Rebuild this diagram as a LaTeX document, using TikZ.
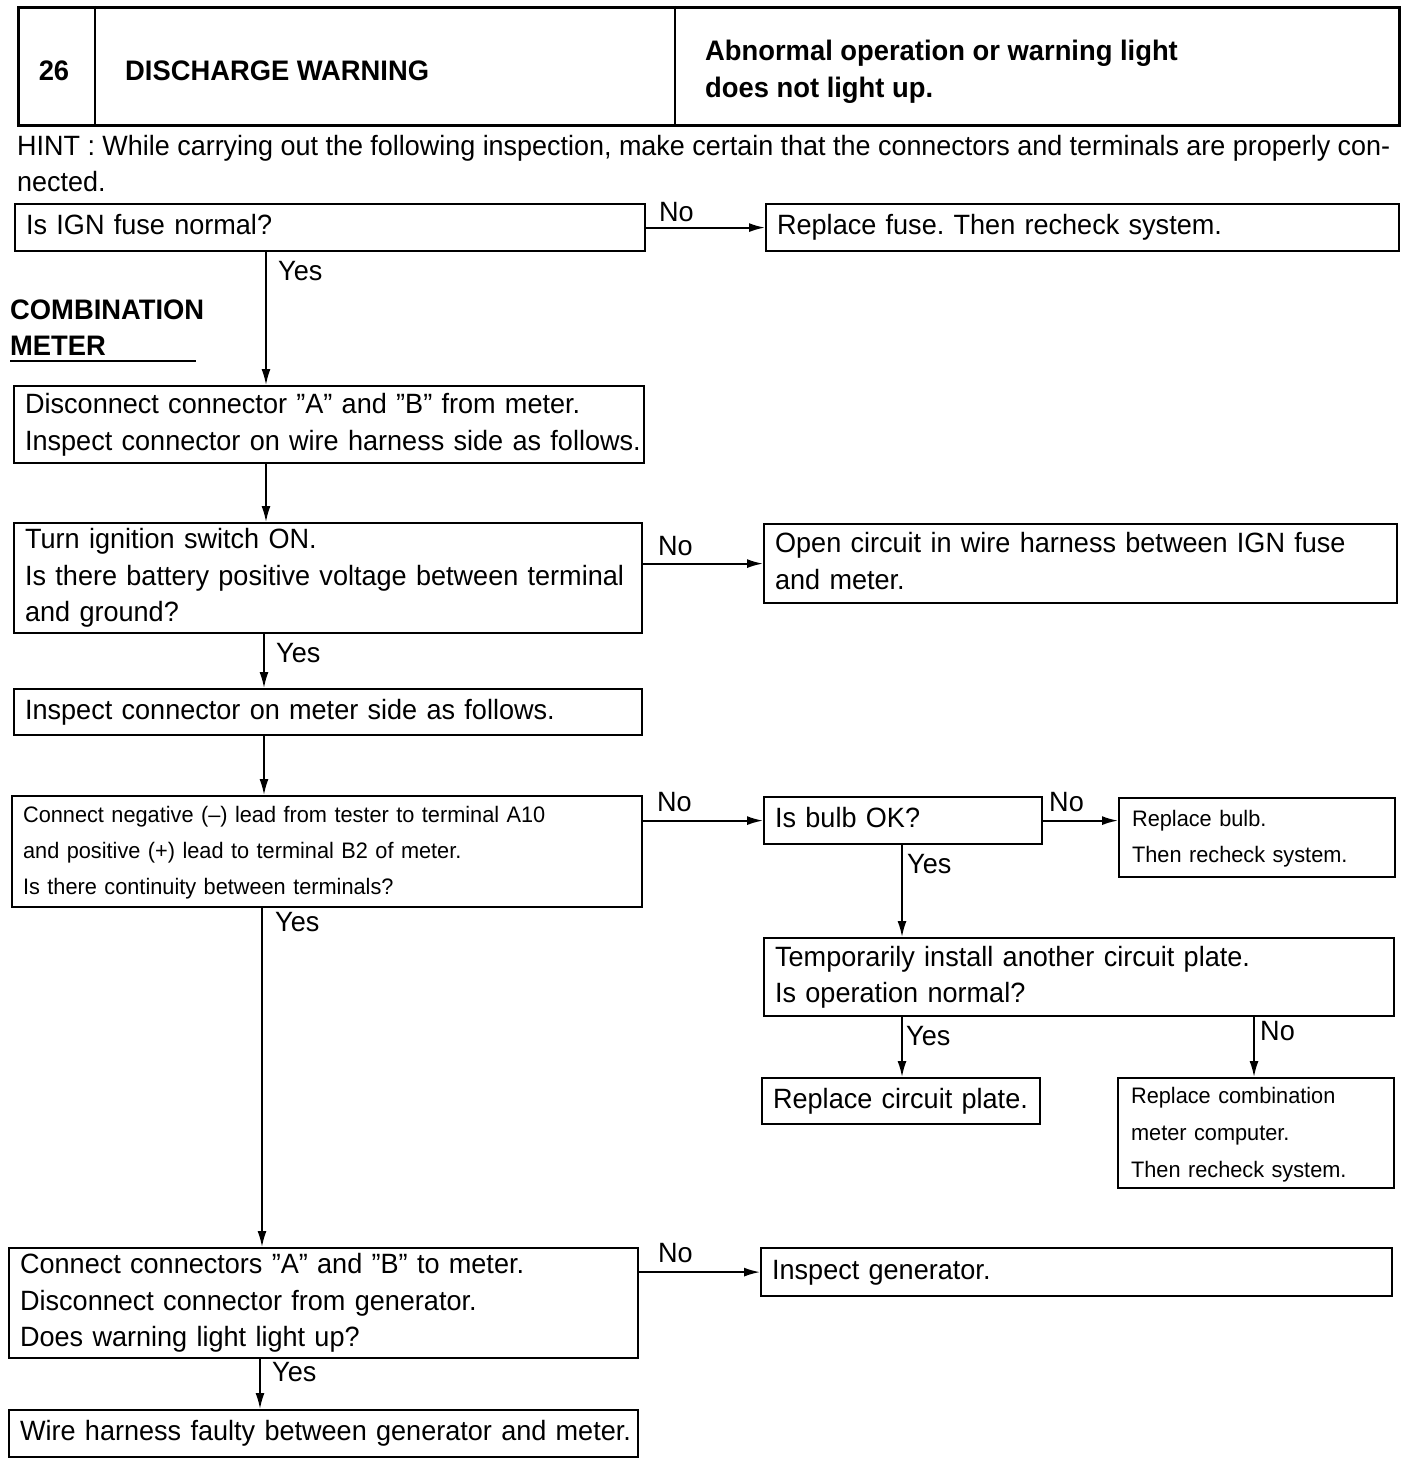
\documentclass[tikz,border=0pt]{standalone}
\usepackage{fontspec}
\setmainfont{Liberation Sans}[FakeStretch=0.97]
\usetikzlibrary{arrows.meta}
\frenchspacing
\newcommand{\fsmain}{\fontsize{27.9}{36.5}\selectfont}
\newcommand{\fssmall}{\fontsize{22.4}{36}\selectfont}
\newcommand{\fsbold}{\fontsize{28.2}{37}\selectfont\bfseries}
\newcommand{\tl}[1]{\begin{tabular}{@{}l@{}}#1\end{tabular}}
\begin{document}
\begin{tikzpicture}[x=1pt,y=-1pt,
 box/.style={draw, line width=2.2pt, anchor=north west, align=left, inner xsep=11pt, inner ysep=0pt, font=\fsmain},
 sbox/.style={box, font=\fssmall, inner xsep=13pt},
 arr/.style={line width=1.8pt, -{Latex[length=16pt,width=9pt]}},
 lbl/.style={anchor=base west, inner sep=0pt, font=\fsmain},
 blbl/.style={anchor=base west, inner sep=0pt, font=\fsbold},
]
\useasboundingbox (0,0) rectangle (1408,1464);

% header
\node[draw, line width=3pt, minimum width=1381pt, minimum height=118pt, anchor=north west, inner sep=0pt] (hdr) at (17,6) {};
\draw[line width=2pt] (hdr.north west -| 95,0) -- (hdr.south west -| 95,0);
\draw[line width=2pt] (hdr.north west -| 675,0) -- (hdr.south west -| 675,0);
\node[blbl, anchor=base] (num) at (54,81) {26};
\node[blbl] (ttl) at (125,81) {DISCHARGE WARNING};
\node[blbl] (sym1) at (705,60) {Abnormal operation or warning light};
\node[blbl] (sym2) at (705,97) {does not light up.};

% hint
\node[anchor=north west, inner sep=0pt, font=\fsmain] (hint) at (17,129.5) {\resizebox{1373pt}{\height}{\tl{HINT : While carrying out the following inspection, make certain that the connectors and terminals are properly con-\\nected.}}};

% section label
\node[blbl] (cm1) at (10,319) {COMBINATION};
\node[blbl] (cm2) at (10,355) {METER};
\draw[line width=2.5pt] (10,361) -- (196,361);

% boxes
\node[box, text width=608pt, minimum height=47pt] (b1) at (14,203) {\tl{Is IGN fuse normal?}};
\node[box, text width=611pt, minimum height=47pt] (r1) at (765,203) {\tl{Replace fuse. Then recheck system.}};
\node[box, text width=608pt, minimum height=77pt] (b2) at (13,385) {\tl{Disconnect connector "A" and "B" from meter.\\Inspect connector on wire harness side as follows.}};
\node[box, text width=606pt, minimum height=110pt] (b3) at (13,522) {\tl{Turn ignition switch ON.\\Is there battery positive voltage between terminal\\and ground?}};
\node[box, text width=611pt, minimum height=79pt] (r3) at (763,523) {\tl{Open circuit in wire harness between IGN fuse\\and meter.}};
\node[box, text width=606pt, minimum height=46pt] (b4) at (13,688) {\tl{Inspect connector on meter side as follows.}};
\node[sbox, inner xsep=11pt, text width=608pt, minimum height=111pt] (b5) at (11,795) {\tl{Connect negative (--) lead from tester to terminal A10\\and positive (+) lead to terminal B2 of meter.\\Is there continuity between terminals?}};
\node[box, text width=256pt, minimum height=47pt] (bulb) at (763,796) {\tl{Is bulb OK?}};
\node[sbox, text width=250pt, minimum height=79pt] (rb) at (1118,797) {\tl{Replace bulb.\\Then recheck system.}};
\node[box, text width=608pt, minimum height=78pt] (tp) at (763,937) {\tl{Temporarily install another circuit plate.\\Is operation normal?}};
\node[box, text width=256pt, minimum height=46pt] (rcp) at (761,1077) {\tl{Replace circuit plate.}};
\node[sbox, text width=250pt, minimum height=109pt] (rcm) at (1117,1077) {\tl{Replace combination\\[1pt]meter computer.\\[1pt]Then recheck system.}};
\node[box, text width=607pt, minimum height=109pt] (b6) at (8,1247) {\tl{Connect connectors "A" and "B" to meter.\\Disconnect connector from generator.\\Does warning light light up?}};
\node[box, text width=609pt, minimum height=48pt] (gen) at (760,1247) {\tl{Inspect generator.}};
\node[box, text width=607pt, minimum height=47pt] (b7) at (8,1409) {\tl{Wire harness faulty between generator and meter.}};

% columns
\coordinate (c1) at (266,0);
\coordinate (c2) at (264,0);
\coordinate (c3) at (262,0);
\coordinate (c4) at (260,0);
\coordinate (c5) at (902,0);
\coordinate (c6) at (1254,0);

% connectors
\draw[arr] (b1.east) -- (r1.west);
\draw[arr] (b1.south -| c1) -- (b2.north -| c1);
\draw[arr] (b2.south -| c1) -- (b3.north -| c1);
\draw[arr] (b3.east |- r3.west) -- (r3.west);
\draw[arr] (b3.south -| c2) -- (b4.north -| c2);
\draw[arr] (b4.south -| c2) -- (b5.north -| c2);
\draw[arr] (b5.east |- bulb.west) -- (bulb.west);
\draw[arr] (bulb.east) -- (bulb.east -| rb.west);
\draw[arr] (bulb.south -| c5) -- (tp.north -| c5);
\draw[arr] (tp.south -| c5) -- (rcp.north -| c5);
\draw[arr] (tp.south -| c6) -- (rcm.north -| c6);
\draw[arr] (b5.south -| c3) -- (b6.north -| c3);
\draw[arr] (b6.east |- gen.west) -- (gen.west);
\draw[arr] (b6.south -| c4) -- (b7.north -| c4);

% labels
\node[lbl] (n1) at (659,221) {No};
\node[lbl] (y1) at (278,280) {Yes};
\node[lbl] (n2) at (658,555) {No};
\node[lbl] (y2) at (276,662) {Yes};
\node[lbl] (n3) at (657,811) {No};
\node[lbl] (n4) at (1049,811) {No};
\node[lbl] (y3) at (907,873) {Yes};
\node[lbl] (y4) at (275,931) {Yes};
\node[lbl] (y5) at (906,1045) {Yes};
\node[lbl] (n5) at (1260,1040) {No};
\node[lbl] (n6) at (658,1262) {No};
\node[lbl] (y6) at (272,1381) {Yes};
\end{tikzpicture}
\end{document}
